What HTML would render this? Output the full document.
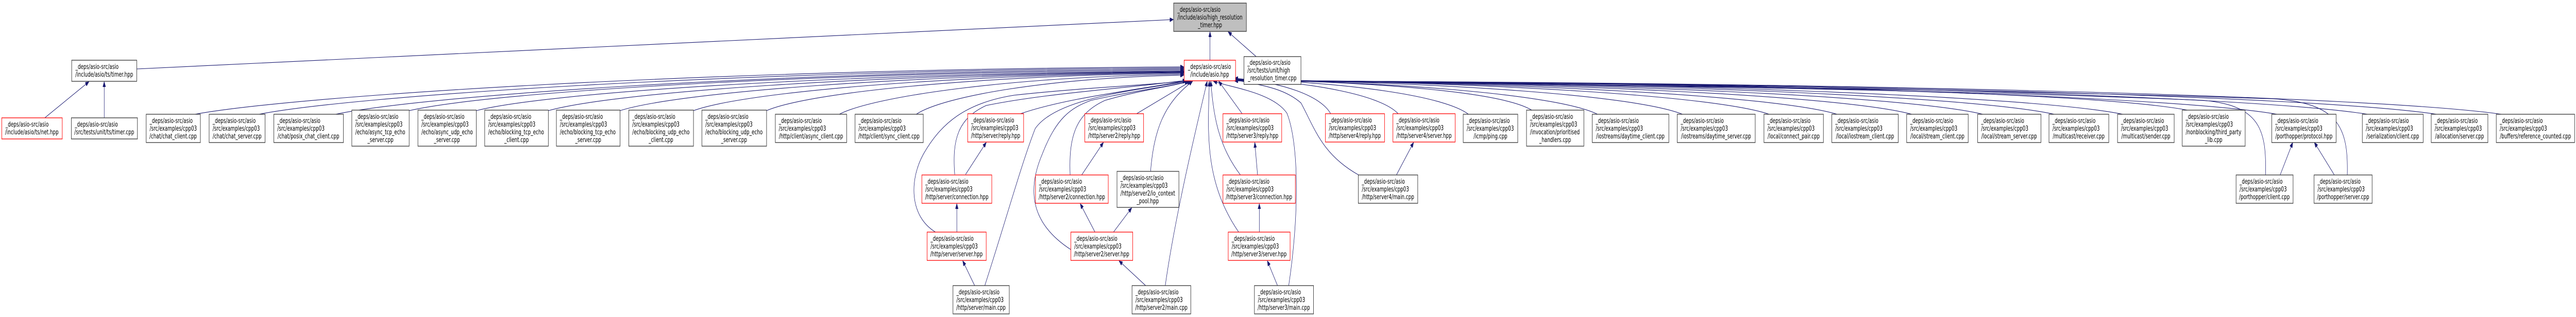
<!DOCTYPE html>
<html><head><meta charset="utf-8"><style>
html,body{margin:0;padding:0;background:#fff;overflow:hidden;width:100%;height:100%;}
svg{display:block;width:100vw;height:100vh;}
text{font-family:"DejaVu Sans","Liberation Sans",sans-serif;font-size:13px;fill:#000;}
.b{fill:#fff;stroke:#333;stroke-width:1.3;}
.r{fill:#fff;stroke:#ff0000;stroke-width:1.3;}
.g{fill:#bfbfbf;stroke:#333;stroke-width:1.3;}
.e{fill:none;stroke:#191970;stroke-width:1.1;}
.m{text-anchor:middle;}
</style></head><body>
<svg viewBox="0 0 7366 616" preserveAspectRatio="none" xmlns="http://www.w3.org/2000/svg">
<defs><marker id="a" markerUnits="userSpaceOnUse" markerWidth="11" markerHeight="8" refX="10" refY="4" orient="auto"><path d="M0,0 L10,4 L0,8 z" fill="#191970" stroke="#191970"/></marker></defs>

<g class="e" marker-end="url(#a)">
<path class="e" d="M3460,117 L3460,62"/>
<path class="e" d="M3592,110 L3512,62"/>
<path class="e" d="M391,134 L3355,38"/>
<path class="e" d="M128,229 L254,159"/>
<path class="e" d="M298,229 L298,159"/>

<path class="e" d="M558,222 C841,187 1972,135 3385,130"/>
<path class="e" d="M741,222 C1005,187 2064,137 3385,132"/>
<path class="e" d="M960,222 C1203,187 2173,139 3385,134"/>
<path class="e" d="M1170,215 C1392,180 2278,141 3385,136"/>
<path class="e" d="M1362,215 C1564,180 2374,143 3385,138"/>
<path class="e" d="M1568,215 C1750,180 2477,144 3385,139"/>
<path class="e" d="M1773,215 C1934,180 2580,145 3385,140"/>
<path class="e" d="M1983,215 C2123,180 2685,146 3385,141"/>
<path class="e" d="M2192,215 C2311,180 2789,147 3385,142"/>
<path class="e" d="M2400,222 C2499,187 2893,149 3385,144"/>
<path class="e" d="M2620,222 C2697,187 3003,151 3385,146"/>

<path class="e" d="M2918,221 C3050,190 3250,175 3392,157"/>
<path class="e" d="M2761,339 L2820,277"/>
<path class="e" d="M2730,339 C2722,270 2740,230 2820,205 C3000,180 3250,170 3392,156"/>
<path class="e" d="M2736,451 L2736,396"/>
<path class="e" d="M2675,451 C2600,420 2600,350 2640,300 C2690,240 2760,200 2900,185 C3100,170 3300,165 3394,157"/>
<path class="e" d="M2787,555 L2753,507"/>
<path class="e" d="M2816,555 C2880,420 2920,320 2960,250 C3020,190 3250,175 3398,158"/>

<path class="e" d="M3250,221 L3405,158"/>
<path class="e" d="M3093,340 L3155,277"/>
<path class="e" d="M3060,340 C3055,260 3080,220 3160,195 C3260,175 3350,168 3402,158"/>
<path class="e" d="M3290,333 C3300,250 3330,200 3410,158"/>
<path class="e" d="M3131,451 L3089,396"/>
<path class="e" d="M3184,451 L3236,404"/>
<path class="e" d="M3062,485 C2960,440 2930,380 2980,300 C3020,230 3060,210 3120,195 C3250,175 3350,168 3398,158"/>
<path class="e" d="M3276,555 L3200,507"/>
<path class="e" d="M3332,555 C3360,420 3420,250 3452,158"/>

<path class="e" d="M3552,221 L3485,158"/>
<path class="e" d="M3596,340 L3588,277"/>
<path class="e" d="M3547,340 C3480,280 3470,220 3462,158"/>
<path class="e" d="M3601,451 L3601,396"/>
<path class="e" d="M3542,451 C3440,350 3455,250 3458,158"/>
<path class="e" d="M3653,555 L3624,507"/>
<path class="e" d="M3685,555 C3715,420 3715,280 3680,220 C3640,180 3520,170 3470,158"/>

<path class="e" d="M3805,221 C3777,186 3667,160 3530,152"/>
<path class="e" d="M3998,221 C3951,186 3764,160 3530,153"/>
<path class="e" d="M3993,340 L4042,277"/>
<path class="e" d="M3885,340 C3780,300 3760,250 3720,200 C3670,170 3600,165 3530,155"/>
<path class="e" d="M4199,222 C4132,187 3864,160 3530,154"/>
<path class="e" d="M4380,214 C4295,179 3955,160 3530,154"/>
<path class="e" d="M4568,222 C4464,187 4049,160 3530,155"/>
<path class="e" d="M4811,222 C4683,187 4170,160 3530,155"/>
<path class="e" d="M5059,222 C4906,187 4294,160 3530,155"/>
<path class="e" d="M5253,222 C5081,187 4391,160 3530,156"/>
<path class="e" d="M5467,222 C5273,187 4498,160 3530,156"/>
<path class="e" d="M5670,222 C5456,187 4600,160 3530,156"/>
<path class="e" d="M5874,222 C5640,187 4702,160 3530,156"/>
<path class="e" d="M6070,222 C5816,187 4800,160 3530,156"/>
<path class="e" d="M6255,214 C5982,179 4892,160 3530,157"/>
<path class="e" d="M6511,222 C6213,187 5020,160 3530,157"/>
<path class="e" d="M6770,222 C6446,187 5150,160 3530,157"/>
<path class="e" d="M6967,222 C6623,187 5248,160 3530,157"/>
<path class="e" d="M7153,222 C6791,187 5341,160 3530,157"/>
<path class="e" d="M6520,340 L6556,277"/>
<path class="e" d="M6675,340 L6618,277"/>
<path class="e" d="M6478,340 C6482,250 6460,205 6300,195 C5500,172 4300,162 3530,157"/>
<path class="e" d="M6712,340 C6715,250 6690,200 6500,192 C5600,172 4300,162 3530,157"/>
</g>

<rect class="g" x="3356" y="6" width="208" height="55"/>
<text x="3367" y="23">_deps/asio-src/asio</text><text x="3367" y="38">/include/asio/high_resolution</text><text class="m" x="3460" y="53">_timer.hpp</text>

<rect class="r" x="3386" y="117" width="147" height="40"/>
<text x="3397" y="134">_deps/asio-src/asio</text><text class="m" x="3459" y="149">/include/asio.hpp</text>

<rect class="b" x="3557" y="110" width="163" height="54"/>
<text x="3567" y="126">_deps/asio-src/asio</text><text x="3567" y="141">/src/tests/unit/high</text><text class="m" x="3638" y="156">_resolution_timer.cpp</text>

<rect class="b" x="205" y="117" width="186" height="41"/>
<text x="216" y="134">_deps/asio-src/asio</text><text class="m" x="298" y="149">/include/asio/ts/timer.hpp</text>

<rect class="r" x="5" y="229" width="173" height="41"/>
<text x="16" y="246">_deps/asio-src/asio</text><text class="m" x="91" y="261">/include/asio/ts/net.hpp</text>
<rect class="b" x="204" y="229" width="189" height="41"/>
<text x="214" y="246">_deps/asio-src/asio</text><text class="m" x="298" y="261">/src/tests/unit/ts/timer.cpp</text>

<g>
<rect class="b" x="418" y="222" width="155" height="55"/><text x="428" y="239">_deps/asio-src/asio</text><text x="428" y="254">/src/examples/cpp03</text><text class="m" x="495" y="269">/chat/chat_client.cpp</text>
<rect class="b" x="598" y="222" width="160" height="55"/><text x="608" y="239">_deps/asio-src/asio</text><text x="608" y="254">/src/examples/cpp03</text><text class="m" x="678" y="269">/chat/chat_server.cpp</text>
<rect class="b" x="783" y="222" width="199" height="55"/><text x="793" y="239">_deps/asio-src/asio</text><text x="793" y="254">/src/examples/cpp03</text><text class="m" x="882" y="269">/chat/posix_chat_client.cpp</text>

<rect class="b" x="1006" y="214" width="164" height="70"/><text x="1016" y="231">_deps/asio-src/asio</text><text x="1016" y="246">/src/examples/cpp03</text><text x="1016" y="261">/echo/async_tcp_echo</text><text class="m" x="1088" y="276">_server.cpp</text>
<rect class="b" x="1195" y="214" width="167" height="70"/><text x="1205" y="231">_deps/asio-src/asio</text><text x="1205" y="246">/src/examples/cpp03</text><text x="1205" y="261">/echo/async_udp_echo</text><text class="m" x="1278" y="276">_server.cpp</text>
<rect class="b" x="1386" y="214" width="182" height="70"/><text x="1396" y="231">_deps/asio-src/asio</text><text x="1396" y="246">/src/examples/cpp03</text><text x="1396" y="261">/echo/blocking_tcp_echo</text><text class="m" x="1477" y="276">_client.cpp</text>
<rect class="b" x="1591" y="214" width="182" height="70"/><text x="1601" y="231">_deps/asio-src/asio</text><text x="1601" y="246">/src/examples/cpp03</text><text x="1601" y="261">/echo/blocking_tcp_echo</text><text class="m" x="1682" y="276">_server.cpp</text>
<rect class="b" x="1798" y="214" width="185" height="70"/><text x="1808" y="231">_deps/asio-src/asio</text><text x="1808" y="246">/src/examples/cpp03</text><text x="1808" y="261">/echo/blocking_udp_echo</text><text class="m" x="1890" y="276">_client.cpp</text>
<rect class="b" x="2007" y="214" width="185" height="70"/><text x="2017" y="231">_deps/asio-src/asio</text><text x="2017" y="246">/src/examples/cpp03</text><text x="2017" y="261">/echo/blocking_udp_echo</text><text class="m" x="2099" y="276">_server.cpp</text>

<rect class="b" x="2217" y="222" width="204" height="55"/><text x="2227" y="239">_deps/asio-src/asio</text><text x="2227" y="254">/src/examples/cpp03</text><text class="m" x="2319" y="269">/http/client/async_client.cpp</text>
<rect class="b" x="2445" y="222" width="195" height="55"/><text x="2455" y="239">_deps/asio-src/asio</text><text x="2455" y="254">/src/examples/cpp03</text><text class="m" x="2542" y="269">/http/client/sync_client.cpp</text>

<rect class="r" x="2767" y="221" width="160" height="55"/><text x="2777" y="238">_deps/asio-src/asio</text><text x="2777" y="253">/src/examples/cpp03</text><text class="m" x="2847" y="268">/http/server/reply.hpp</text>
<rect class="r" x="3102" y="221" width="168" height="55"/><text x="3112" y="238">_deps/asio-src/asio</text><text x="3112" y="253">/src/examples/cpp03</text><text class="m" x="3186" y="268">/http/server2/reply.hpp</text>
<rect class="r" x="3497" y="221" width="168" height="55"/><text x="3507" y="238">_deps/asio-src/asio</text><text x="3507" y="253">/src/examples/cpp03</text><text class="m" x="3581" y="268">/http/server3/reply.hpp</text>
<rect class="r" x="3790" y="221" width="169" height="55"/><text x="3800" y="238">_deps/asio-src/asio</text><text x="3800" y="253">/src/examples/cpp03</text><text class="m" x="3874" y="268">/http/server4/reply.hpp</text>
<rect class="r" x="3983" y="221" width="178" height="55"/><text x="3993" y="238">_deps/asio-src/asio</text><text x="3993" y="253">/src/examples/cpp03</text><text class="m" x="4072" y="268">/http/server4/server.hpp</text>

<rect class="b" x="4184" y="222" width="156" height="55"/><text x="4194" y="239">_deps/asio-src/asio</text><text x="4194" y="254">/src/examples/cpp03</text><text class="m" x="4262" y="269">/icmp/ping.cpp</text>
<rect class="b" x="4365" y="214" width="164" height="70"/><text x="4375" y="231">_deps/asio-src/asio</text><text x="4375" y="246">/src/examples/cpp03</text><text x="4375" y="261">/invocation/prioritised</text><text class="m" x="4447" y="276">_handlers.cpp</text>
<rect class="b" x="4553" y="222" width="219" height="55"/><text x="4563" y="239">_deps/asio-src/asio</text><text x="4563" y="254">/src/examples/cpp03</text><text class="m" x="4662" y="269">/iostreams/daytime_client.cpp</text>
<rect class="b" x="4796" y="222" width="223" height="55"/><text x="4806" y="239">_deps/asio-src/asio</text><text x="4806" y="254">/src/examples/cpp03</text><text class="m" x="4907" y="269">/iostreams/daytime_server.cpp</text>
<rect class="b" x="5044" y="222" width="170" height="55"/><text x="5054" y="239">_deps/asio-src/asio</text><text x="5054" y="254">/src/examples/cpp03</text><text class="m" x="5129" y="269">/local/connect_pair.cpp</text>
<rect class="b" x="5238" y="222" width="190" height="55"/><text x="5248" y="239">_deps/asio-src/asio</text><text x="5248" y="254">/src/examples/cpp03</text><text class="m" x="5333" y="269">/local/iostream_client.cpp</text>
<rect class="b" x="5452" y="222" width="176" height="55"/><text x="5462" y="239">_deps/asio-src/asio</text><text x="5462" y="254">/src/examples/cpp03</text><text class="m" x="5540" y="269">/local/stream_client.cpp</text>
<rect class="b" x="5655" y="222" width="181" height="55"/><text x="5665" y="239">_deps/asio-src/asio</text><text x="5665" y="254">/src/examples/cpp03</text><text class="m" x="5745" y="269">/local/stream_server.cpp</text>
<rect class="b" x="5859" y="222" width="171" height="55"/><text x="5869" y="239">_deps/asio-src/asio</text><text x="5869" y="254">/src/examples/cpp03</text><text class="m" x="5944" y="269">/multicast/receiver.cpp</text>
<rect class="b" x="6055" y="222" width="162" height="55"/><text x="6065" y="239">_deps/asio-src/asio</text><text x="6065" y="254">/src/examples/cpp03</text><text class="m" x="6136" y="269">/multicast/sender.cpp</text>
<rect class="b" x="6240" y="214" width="180" height="70"/><text x="6250" y="231">_deps/asio-src/asio</text><text x="6250" y="246">/src/examples/cpp03</text><text x="6250" y="261">/nonblocking/third_party</text><text class="m" x="6330" y="276">_lib.cpp</text>
<rect class="b" x="6496" y="222" width="184" height="55"/><text x="6506" y="239">_deps/asio-src/asio</text><text x="6506" y="254">/src/examples/cpp03</text><text class="m" x="6588" y="269">/porthopper/protocol.hpp</text>
<rect class="b" x="6755" y="222" width="174" height="55"/><text x="6765" y="239">_deps/asio-src/asio</text><text x="6765" y="254">/src/examples/cpp03</text><text class="m" x="6842" y="269">/serialization/client.cpp</text>
<rect class="b" x="6952" y="222" width="162" height="55"/><text x="6962" y="239">_deps/asio-src/asio</text><text x="6962" y="254">/src/examples/cpp03</text><text class="m" x="7033" y="269">/allocation/server.cpp</text>
<rect class="b" x="7138" y="222" width="224" height="55"/><text x="7148" y="239">_deps/asio-src/asio</text><text x="7148" y="254">/src/examples/cpp03</text><text class="m" x="7250" y="269">/buffers/reference_counted.cpp</text>
</g>

<rect class="r" x="2636" y="340" width="200" height="55"/><text x="2646" y="357">_deps/asio-src/asio</text><text x="2646" y="372">/src/examples/cpp03</text><text class="m" x="2736" y="387">/http/server/connection.hpp</text>
<rect class="r" x="2961" y="340" width="208" height="55"/><text x="2971" y="357">_deps/asio-src/asio</text><text x="2971" y="372">/src/examples/cpp03</text><text class="m" x="3065" y="387">/http/server2/connection.hpp</text>
<rect class="b" x="3194" y="333" width="177" height="70"/><text x="3204" y="350">_deps/asio-src/asio</text><text x="3204" y="365">/src/examples/cpp03</text><text x="3204" y="380">/http/server2/io_context</text><text class="m" x="3282" y="395">_pool.hpp</text>
<rect class="r" x="3497" y="340" width="207" height="55"/><text x="3507" y="357">_deps/asio-src/asio</text><text x="3507" y="372">/src/examples/cpp03</text><text class="m" x="3600" y="387">/http/server3/connection.hpp</text>
<rect class="b" x="3884" y="340" width="170" height="55"/><text x="3894" y="357">_deps/asio-src/asio</text><text x="3894" y="372">/src/examples/cpp03</text><text class="m" x="3969" y="387">/http/server4/main.cpp</text>
<rect class="b" x="6394" y="340" width="163" height="55"/><text x="6404" y="357">_deps/asio-src/asio</text><text x="6404" y="372">/src/examples/cpp03</text><text class="m" x="6475" y="387">/porthopper/client.cpp</text>
<rect class="b" x="6617" y="340" width="166" height="55"/><text x="6627" y="357">_deps/asio-src/asio</text><text x="6627" y="372">/src/examples/cpp03</text><text class="m" x="6700" y="387">/porthopper/server.cpp</text>

<rect class="r" x="2651" y="451" width="169" height="55"/><text x="2661" y="468">_deps/asio-src/asio</text><text x="2661" y="483">/src/examples/cpp03</text><text class="m" x="2735" y="498">/http/server/server.hpp</text>
<rect class="r" x="3062" y="451" width="177" height="55"/><text x="3072" y="468">_deps/asio-src/asio</text><text x="3072" y="483">/src/examples/cpp03</text><text class="m" x="3150" y="498">/http/server2/server.hpp</text>
<rect class="r" x="3512" y="451" width="177" height="55"/><text x="3522" y="468">_deps/asio-src/asio</text><text x="3522" y="483">/src/examples/cpp03</text><text class="m" x="3600" y="498">/http/server3/server.hpp</text>

<rect class="b" x="2725" y="555" width="161" height="55"/><text x="2735" y="572">_deps/asio-src/asio</text><text x="2735" y="587">/src/examples/cpp03</text><text class="m" x="2805" y="602">/http/server/main.cpp</text>
<rect class="b" x="3237" y="555" width="168" height="55"/><text x="3247" y="572">_deps/asio-src/asio</text><text x="3247" y="587">/src/examples/cpp03</text><text class="m" x="3321" y="602">/http/server2/main.cpp</text>
<rect class="b" x="3587" y="555" width="169" height="55"/><text x="3597" y="572">_deps/asio-src/asio</text><text x="3597" y="587">/src/examples/cpp03</text><text class="m" x="3671" y="602">/http/server3/main.cpp</text>
</svg>
</body></html>
